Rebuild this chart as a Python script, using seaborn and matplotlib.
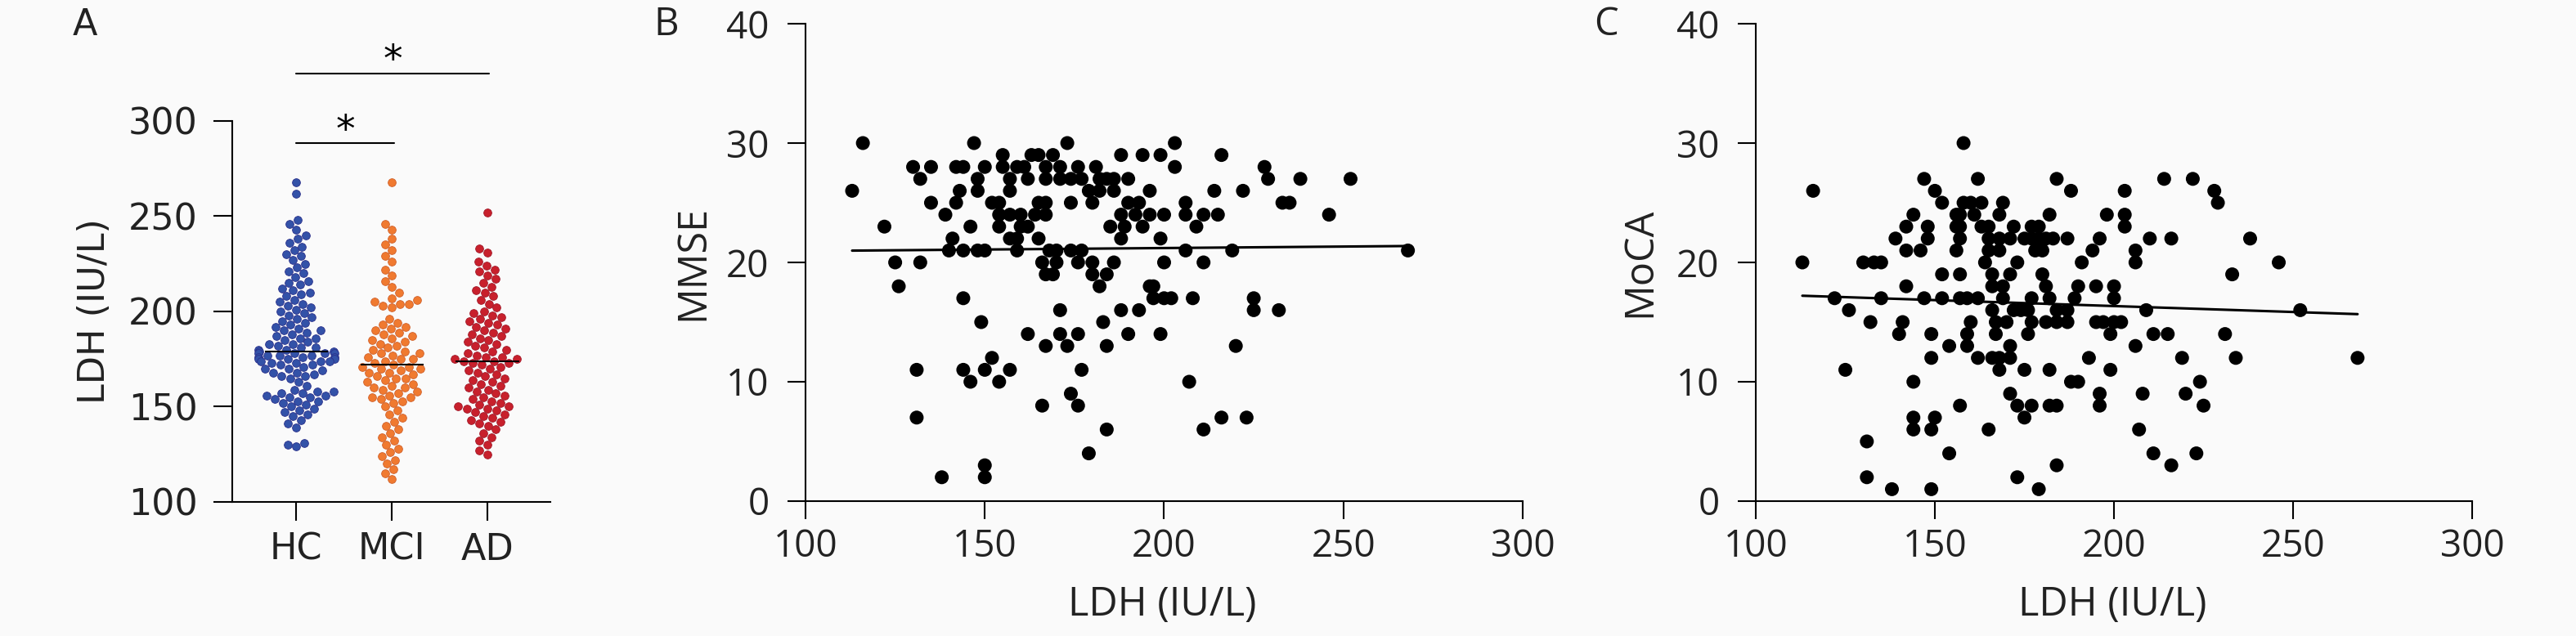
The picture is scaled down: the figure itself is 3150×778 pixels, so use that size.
import numpy as np
import pandas as pd
import matplotlib
matplotlib.use("Agg")
import matplotlib.pyplot as plt
import seaborn as sns

# ---------------- Panel A data ----------------
groups = ["HC", "MCI", "AD"]
group_colors = ["#3352a8", "#f07a30", "#c8202c"]
group_edges = ["#2a2f8a", "#d0602a", "#a01828"]

hc_ldh = [268, 262, 248, 246, 243, 240, 238, 236, 234, 232, 230, 229, 227, 225,
          223, 221, 220, 218, 216, 215, 214, 212, 211, 210, 209, 208, 206, 205,
          204, 203, 202, 201, 200, 199, 198, 197, 196, 195, 194, 193, 192, 191,
          190, 190, 189, 188, 187, 186, 186, 185, 184, 183, 183, 182, 181, 181,
          180, 180, 179, 179, 178, 178, 178, 178, 177, 177, 177, 176, 176, 176,
          175, 175, 175, 174, 174, 174, 173, 173, 172, 172, 171, 170, 170, 169,
          168, 168, 167, 166, 166, 165, 163, 161, 159, 158, 158, 157, 157, 156,
          156, 155, 155, 154, 153, 153, 152, 151, 150, 149, 148, 147, 146, 145,
          143, 141, 139, 131, 130, 129]
mci_ldh = [268, 246, 243, 238, 235, 232, 229, 226, 222, 219, 216, 213, 210, 207,
           206, 205, 204, 204, 203, 202, 196, 194, 193, 192, 191, 190, 189, 188,
           187, 186, 185, 184, 183, 182, 181, 180, 179, 178, 178, 177, 176, 175,
           175, 174, 173, 172, 171, 171, 170, 170, 169, 168, 168, 167, 166, 165,
           165, 164, 163, 162, 161, 160, 160, 159, 158, 157, 156, 155, 155, 154,
           153, 152, 150, 148, 146, 144, 142, 140, 138, 136, 134, 132, 130, 128,
           126, 124, 122, 120, 117, 115, 112]
ad_ldh = [252, 233, 231, 226, 224, 222, 221, 219, 217, 215, 213, 211, 210, 208,
          206, 204, 202, 200, 199, 198, 197, 196, 195, 194, 193, 192, 191, 190,
          189, 188, 187, 186, 185, 184, 183, 182, 181, 180, 179, 178, 177, 176,
          176, 175, 175, 174, 174, 173, 173, 172, 171, 170, 169, 168, 167, 166,
          165, 164, 163, 162, 161, 160, 159, 158, 157, 156, 155, 154, 153, 152,
          151, 150, 150, 149, 149, 148, 147, 146, 145, 144, 143, 142, 141, 140,
          138, 136, 134, 132, 130, 127, 125]

# significance annotations: (group i, group j, bar height, label)
sig_pairs = [(0, 1, 288.4, "*"), (0, 2, 325.0, "*")]

# ---------------- Panel B data ----------------
b_ldh = [113, 116, 122, 125, 126, 130, 132, 132, 131, 131,
         135, 135, 139, 138, 141, 140, 142, 144, 143, 142,
         144, 144, 144, 146, 146, 147, 148, 148, 148, 150,
         149, 150, 150, 150, 150, 152, 152, 154, 154, 154,
         154, 155, 155, 157, 157, 157, 157, 157, 159, 159,
         159, 161, 160, 160, 162, 162, 162, 163, 165, 166,
         165, 164, 165, 167, 167, 167, 167, 167, 166, 167,
         169, 168, 169, 170, 170, 171, 171, 173, 171, 171,
         173, 174, 174, 174, 174, 176, 176, 176, 176, 177,
         177, 177, 179, 179, 180, 180, 180, 181, 182, 182,
         182, 183, 184, 184, 185, 184, 184, 186, 186, 186,
         188, 188, 188, 189, 188, 190, 190, 190, 192, 193,
         193, 194, 194, 196, 196, 196, 197, 197, 199, 199,
         199, 200, 200, 200, 202, 203, 203, 206, 206, 206,
         207, 208, 209, 211, 211, 211, 214, 215, 216, 216,
         219, 220, 222, 223, 225, 225, 228, 229, 232, 233,
         235, 238, 252, 246, 268]
b_mmse = [26, 30, 23, 20, 18, 28, 27, 20, 11, 7,
          28, 25, 24, 2, 22, 21, 28, 28, 26, 25,
          21, 17, 11, 10, 23, 30, 27, 26, 21, 21,
          15, 11, 3, 2, 28, 12, 25, 10, 24, 23,
          25, 29, 28, 24, 26, 27, 11, 22, 21, 22,
          28, 28, 24, 23, 23, 14, 27, 29, 29, 8,
          22, 24, 25, 28, 27, 25, 24, 13, 20, 19,
          19, 21, 29, 20, 21, 27, 28, 30, 16, 14,
          13, 9, 25, 27, 21, 14, 8, 20, 28, 27,
          21, 11, 26, 4, 25, 20, 19, 28, 27, 26,
          18, 15, 27, 19, 23, 13, 6, 26, 20, 27,
          29, 22, 24, 23, 16, 27, 25, 14, 24, 25,
          16, 23, 29, 24, 26, 18, 18, 17, 29, 22,
          14, 24, 20, 17, 17, 30, 28, 25, 24, 21,
          10, 17, 23, 24, 20, 6, 26, 24, 29, 7,
          21, 13, 26, 7, 16, 17, 28, 27, 16, 25,
          25, 27, 27, 24, 21]

# ---------------- Panel C data ----------------
c_ldh = [158, 116, 147, 162, 184, 150, 188, 203, 152, 160,
         163, 169, 144, 156, 157, 161, 168, 182, 198, 203,
         142, 148, 156, 157, 163, 165, 172, 177, 179, 203,
         139, 148, 157, 165, 168, 175, 177, 183, 187, 196,
         142, 146, 156, 165, 168, 178, 180, 194, 113, 130,
         133, 135, 164, 173, 191, 152, 157, 166, 171, 180,
         142, 166, 169, 181, 190, 195, 200, 122, 135, 147,
         152, 157, 159, 162, 169, 177, 182, 189, 200, 126,
         166, 174, 176, 187, 132, 141, 160, 170, 177, 181,
         187, 197, 200, 140, 149, 159, 176, 199, 154, 159,
         171, 149, 162, 166, 171, 193, 125, 168, 175, 182,
         199, 144, 188, 190, 171, 196, 157, 173, 177, 182,
         184, 196, 144, 150, 175, 144, 149, 165, 131, 154,
         184, 131, 173, 138, 149, 179,
         214, 222, 228, 229, 210, 216, 238, 206, 206, 246,
         233, 209, 252, 202, 211, 215, 231, 206, 219, 234,
         268, 224, 208, 220, 225, 207, 211, 223, 216,
         158, 171, 179, 181, 172, 184, 167, 184, 195, 167,
         168]
c_moca = [30, 26, 27, 27, 27, 26, 26, 26, 25, 25,
          25, 25, 24, 24, 24, 24, 24, 24, 24, 24,
          23, 23, 23, 23, 23, 23, 23, 23, 23, 23,
          22, 22, 22, 22, 22, 22, 22, 22, 22, 22,
          21, 21, 21, 21, 21, 21, 21, 21, 20, 20,
          20, 20, 20, 20, 20, 19, 19, 19, 19, 19,
          18, 18, 18, 18, 18, 18, 18, 17, 17, 17,
          17, 17, 17, 17, 17, 17, 17, 17, 17, 16,
          16, 16, 16, 16, 15, 15, 15, 15, 15, 15,
          15, 15, 15, 14, 14, 14, 14, 14, 13, 13,
          13, 12, 12, 12, 12, 12, 11, 11, 11, 11,
          11, 10, 10, 10, 9, 9, 8, 8, 8, 8,
          8, 8, 7, 7, 7, 6, 6, 6, 5, 4,
          3, 2, 2, 1, 1, 1,
          27, 27, 26, 25, 22, 22, 22, 21, 20, 20,
          19, 16, 16, 15, 14, 14, 14, 13, 12, 12,
          12, 10, 9, 9, 8, 6, 4, 4, 3,
          25, 22, 22, 22, 16, 16, 15, 15, 15, 14,
          12]

# ---------------- Styling ----------------
bg = "#fafafa"
sns.set_theme(style="ticks")
plt.rcParams["font.family"] = ["DejaVu Sans"]
plt.rcParams["axes.linewidth"] = 1.5

fig = plt.figure(figsize=(31.5, 7.78), dpi=100, facecolor=bg)
axA = fig.add_axes([0.0902, 0.2108, 0.1235, 0.5990])
axB = fig.add_axes([0.3127, 0.2121, 0.2784, 0.7506])
axC = fig.add_axes([0.6816, 0.2121, 0.2781, 0.7506])
for ax in (axA, axB, axC):
    ax.set_facecolor(bg)
    sns.despine(ax=ax)
    for s in ("left", "bottom"):
        ax.spines[s].set_linewidth(1.5)
        ax.spines[s].set_color("black")

# ---------------- Panel A ----------------
dfA = pd.DataFrame({
    "group": ["HC"] * len(hc_ldh) + ["MCI"] * len(mci_ldh) + ["AD"] * len(ad_ldh),
    "LDH": hc_ldh + mci_ldh + ad_ldh,
})
for g, col, ec in zip(groups, group_colors, group_edges):
    sub = dfA.copy()
    sub.loc[sub["group"] != g, "LDH"] = np.nan
    sns.swarmplot(data=sub, x="group", y="LDH", order=groups, color=col,
                  edgecolor=ec, linewidth=0.6, size=7.0, ax=axA, zorder=3)
for i, vals in enumerate([hc_ldh, mci_ldh, ad_ldh]):
    med = np.median(vals)
    axA.hlines(med, i - 0.33, i + 0.33, color="black", lw=1.5, zorder=5)

axA.set_xlim(-0.67, 2.66)
axA.set_ylim(100, 300)
axA.set_yticks([100, 150, 200, 250, 300])
axA.set_xlabel("")
axA.set_ylabel("LDH (IU/L)", fontsize=32, family="DejaVu Sans", va="center",
               color="#222222")
axA.yaxis.set_label_coords(-0.434, 0.5)
axA.tick_params(axis="both", length=16.5, width=1.5, color="black",
                labelsize=32, labelcolor="#222222")
axA.tick_params(axis="y", pad=14)
axA.tick_params(axis="x", pad=10)

for i, j, h, lab in sig_pairs:
    axA.plot([i, j + 0.02], [h, h], color="black", lw=1.5, clip_on=False)
    axA.text((i + j + 0.02) / 2, h + 1.0, lab, ha="center", va="baseline",
             fontsize=34, color="black", clip_on=False)

# ---------------- Panels B and C ----------------
def scatter_panel(ax, xs, ys, ylab, ylab_x):
    sns.regplot(x=np.array(xs, float), y=np.array(ys, float), ax=ax, ci=None,
                truncate=True, color="black",
                scatter_kws=dict(s=150, edgecolor="none", alpha=1, zorder=3),
                line_kws=dict(lw=2.2, color="black", zorder=4))
    ax.set_xlim(100, 300)
    ax.set_ylim(0, 40)
    ax.set_xticks([100, 150, 200, 250, 300])
    ax.set_yticks([0, 10, 20, 30, 40])
    ax.set_xlabel("LDH (IU/L)", fontsize=35, family="Open Sans",
                  color="#222222", va="center")
    ax.set_ylabel(ylab, fontsize=35, family="Open Sans", color="#222222",
                  va="center")
    ax.tick_params(axis="both", length=16, width=1.5, color="black",
                   labelsize=33, labelcolor="#222222")
    ax.tick_params(axis="y", pad=16)
    ax.tick_params(axis="x", pad=8)
    for t in ax.get_xticklabels() + ax.get_yticklabels():
        t.set_family("Open Sans")
    ax.xaxis.set_label_coords(0.498, -0.218)
    ax.yaxis.set_label_coords(ylab_x, 0.5)

scatter_panel(axB, b_ldh, b_mmse, "MMSE", -0.157)
scatter_panel(axC, c_ldh, c_moca, "MoCA", -0.162)

# panel letters
fig.text(0.033, 0.961, "A", fontsize=32, ha="center", va="center",
         family="DejaVu Sans", color="#222222")
fig.text(0.2587, 0.961, "B", fontsize=34, ha="center", va="center",
         family="Open Sans", color="#222222")
fig.text(0.6235, 0.961, "C", fontsize=34, ha="center", va="center",
         family="Open Sans", color="#222222")

fig.savefig("out.png", dpi=100, facecolor=bg)
